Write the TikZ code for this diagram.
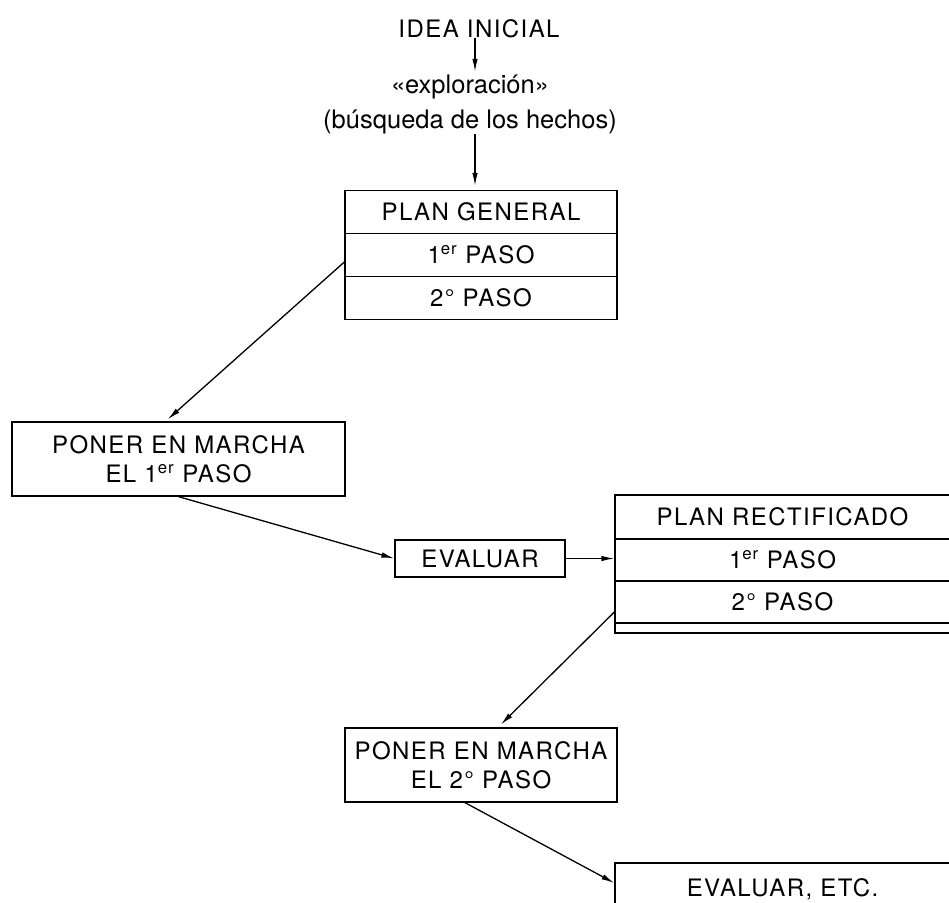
\documentclass[tikz,border=0pt]{standalone}
\usepackage{fontspec}
\setmainfont{TeX Gyre Heros}
\newfontfamily\capsfont{TeX Gyre Heros}[LetterSpace=6]
\usetikzlibrary{positioning, matrix, arrows.meta}

\begin{document}
\begin{tikzpicture}[x=1pt, y=-1pt, line width=1.3pt,
  every node/.style={inner sep=0pt, align=center},
  capstext/.style={font=\capsfont\fontsize{24}{29}\selectfont},
  plaintext/.style={font=\fontsize{25.5}{35}\selectfont},
  box/.style={draw, capstext},
  arrow/.style={-{Latex[length=13pt, width=5.5pt]}, line width=1.3pt}]

\useasboundingbox (0,0) rectangle (949,902);
\clip (0,0) rectangle (949,902);

% Start
\node[capstext] (idea) at (479,28.5) {IDEA INICIAL};
\node[plaintext] (explor) at (470,104) {«exploración»\\(búsqueda de los hechos)};

% Plan general
\matrix[row sep=-1.3pt, nodes={box, minimum width=272pt, minimum height=43pt}] (plan) at (481,255) {
\node (plan-head) {PLAN GENERAL}; \\
\node (plan-one) {1\textsuperscript{er} PASO}; \\
\node (plan-two) {2° PASO}; \\
};

% Primer paso
\node[box, minimum width=333pt, minimum height=74pt] (marcha1) at (178.5,459) {PONER EN MARCHA\\EL 1\textsuperscript{er} PASO};
\node[box, minimum width=170pt, minimum height=37pt] (evaluar) at (480,558.5) {EVALUAR};

% Plan rectificado
\matrix[row sep=-1.3pt, nodes={box, minimum width=335pt, minimum height=42pt}] (rect) at (782.5,564) {
\node[minimum height=44pt] (rect-head) {PLAN RECTIFICADO}; \\
\node (rect-one) {1\textsuperscript{er} PASO}; \\
\node (rect-two) {2° PASO}; \\
\node[minimum height=10pt] (rect-end) {}; \\
};

% Segundo paso
\node[box, minimum width=272pt, minimum height=74pt] (marcha2) at (481,765) {PONER EN MARCHA\\EL 2° PASO};
\node[box, minimum width=335pt, minimum height=52pt] (etc) at (782.5,889) {EVALUAR, ETC.};

% Arrows
\draw[arrow, shorten >=2pt] ([xshift=-4pt]idea.south) -- ([xshift=-4pt]idea.south |- explor.north);
\draw[arrow, shorten >=4pt] ([xshift=-6pt]plan-head.north |- explor.south) -- ([xshift=-6pt]plan-head.north);
\draw[arrow, shorten >=3pt] ([yshift=-7pt]plan-one.west) -- ([xshift=-13pt]marcha1.north);
\draw[arrow] (marcha1.south) -- (evaluar.west);
\draw[arrow] (evaluar.east) -- (evaluar.east -| rect-one.west);
\draw[arrow, shorten >=4pt] ([yshift=-10pt]rect-two.west) -- ([xshift=17pt]marcha2.north);
\draw[arrow] ([xshift=-16pt]marcha2.south) -- ([yshift=6pt]etc.west);
\end{tikzpicture}
\end{document}
